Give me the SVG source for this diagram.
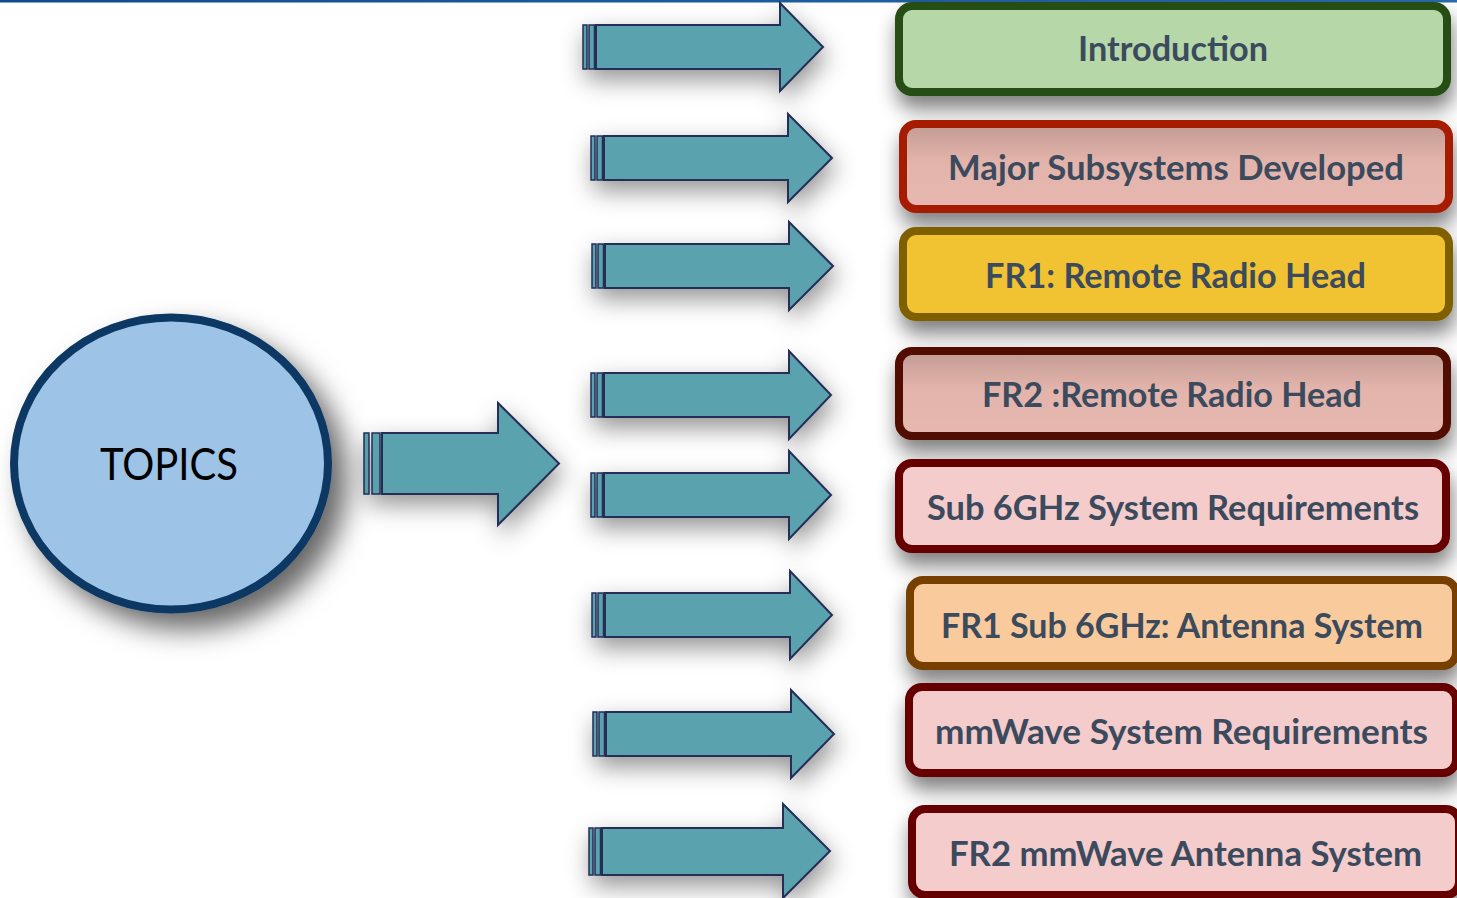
<svg xmlns="http://www.w3.org/2000/svg" width="1457" height="898" viewBox="0 0 1457 898">
  <defs>
    <filter id="shBox" x="-10%" y="-50%" width="120%" height="210%">
      <feGaussianBlur in="SourceAlpha" stdDeviation="10"/>
      <feOffset dx="2" dy="13" result="b"/>
      <feFlood flood-color="#000" flood-opacity="0.5"/>
      <feComposite in2="b" operator="in"/>
      <feMerge><feMergeNode/><feMergeNode in="SourceGraphic"/></feMerge>
    </filter>
    <filter id="shCircle" x="-30%" y="-30%" width="170%" height="170%">
      <feGaussianBlur in="SourceAlpha" stdDeviation="14"/>
      <feOffset dx="15" dy="16" result="b"/>
      <feFlood flood-color="#000" flood-opacity="0.6"/>
      <feComposite in2="b" operator="in"/>
      <feMerge><feMergeNode/><feMergeNode in="SourceGraphic"/></feMerge>
    </filter>
    <filter id="shArrow" x="-25%" y="-60%" width="150%" height="220%">
      <feGaussianBlur in="SourceAlpha" stdDeviation="12"/>
      <feOffset dx="3" dy="10" result="b"/>
      <feFlood flood-color="#000" flood-opacity="0.42"/>
      <feComposite in2="b" operator="in"/>
      <feMerge><feMergeNode/><feMergeNode in="SourceGraphic"/></feMerge>
    </filter>
    <linearGradient id="roseShade" x1="0" y1="0" x2="0" y2="1">
      <stop offset="0" stop-color="#c29b93"/>
      <stop offset="0.45" stop-color="#e3b4ab"/>
      <stop offset="1" stop-color="#e6b8af"/>
    </linearGradient>
    <linearGradient id="topRule" x1="0" y1="0" x2="1" y2="0">
      <stop offset="0" stop-color="#0f4c8c"/>
      <stop offset="1" stop-color="#2a6bab"/>
    </linearGradient>
  </defs>
  <style>
    .box { stroke-width: 8; }
    .label { font-family: Lato, "Open Sans", "Liberation Sans", sans-serif; font-weight: 700; font-size: 34px; fill: #3b4a5d; text-anchor: middle; }
    .arrow { fill: #5aa2ad; stroke: #252d58; stroke-width: 2; stroke-linejoin: miter; }
    .bar { fill: #5aa2ad; stroke: #252d58; stroke-width: 1.5; }
    .topics { font-family: Lato, "Open Sans", "Liberation Sans", sans-serif; font-size: 44px; fill: #000; text-anchor: middle; }
  </style>

  <rect x="0" y="0" width="1457" height="2.5" fill="url(#topRule)"/>

  <!-- block arrows -->
  <g id="connectors">
    <g filter="url(#shArrow)">
      <rect class="bar" x="364" y="433" width="5" height="61"/>
      <rect class="bar" x="372" y="433" width="8" height="61"/>
      <polygon class="arrow" points="382,433 498,433 498,403 559,463.5 498,525 498,494 382,494"/>
    </g>
    <g filter="url(#shArrow)">
      <rect class="bar" x="583" y="25" width="4" height="44"/>
      <rect class="bar" x="589" y="25" width="5.5" height="44"/>
      <polygon class="arrow" points="596,25 780,25 780,3 823,47 780,91 780,69 596,69"/>
    </g>
    <g filter="url(#shArrow)">
      <rect class="bar" x="591" y="136" width="4" height="44"/>
      <rect class="bar" x="597" y="136" width="5.5" height="44"/>
      <polygon class="arrow" points="604,136 788,136 788,114 832,158 788,202 788,180 604,180"/>
    </g>
    <g filter="url(#shArrow)">
      <rect class="bar" x="592" y="244" width="4" height="44"/>
      <rect class="bar" x="598" y="244" width="5.5" height="44"/>
      <polygon class="arrow" points="605,244 789,244 789,222 833,266 789,310 789,288 605,288"/>
    </g>
    <g filter="url(#shArrow)">
      <rect class="bar" x="591" y="373" width="4" height="44"/>
      <rect class="bar" x="597" y="373" width="5.5" height="44"/>
      <polygon class="arrow" points="604,373 789,373 789,351 831,395 789,439 789,417 604,417"/>
    </g>
    <g filter="url(#shArrow)">
      <rect class="bar" x="591" y="473" width="4" height="44"/>
      <rect class="bar" x="597" y="473" width="5.5" height="44"/>
      <polygon class="arrow" points="604,473 789,473 789,451 831,495 789,539 789,517 604,517"/>
    </g>
    <g filter="url(#shArrow)">
      <rect class="bar" x="592" y="593" width="4" height="44"/>
      <rect class="bar" x="598" y="593" width="5.5" height="44"/>
      <polygon class="arrow" points="605,593 790,593 790,571 832,615 790,659 790,637 605,637"/>
    </g>
    <g filter="url(#shArrow)">
      <rect class="bar" x="593" y="712" width="4" height="44"/>
      <rect class="bar" x="599" y="712" width="5.5" height="44"/>
      <polygon class="arrow" points="606,712 791,712 791,690 834,734 791,778 791,756 606,756"/>
    </g>
    <g filter="url(#shArrow)">
      <rect class="bar" x="589" y="828" width="4" height="47"/>
      <rect class="bar" x="595" y="828" width="5.5" height="47"/>
      <polygon class="arrow" points="602,828 783,828 783,804 830,851 783,898 783,875 602,875"/>
    </g>
  </g>

  <!-- central node -->
  <g id="topics">
    <ellipse cx="171" cy="463.5" rx="157" ry="146" fill="#9dc3e6" stroke="#083764" stroke-width="8" filter="url(#shCircle)"/>
    <text class="topics" x="169" y="480" textLength="138" lengthAdjust="spacingAndGlyphs">TOPICS</text>
  </g>

  <!-- topic boxes -->
  <g id="introduction">
    <rect class="box" x="899" y="6" width="548" height="86" rx="13" fill="#b6d7a8" stroke="#274e13" filter="url(#shBox)"/>
    <text class="label" x="1173" y="61" textLength="190" lengthAdjust="spacingAndGlyphs">Introduction</text>
  </g>
  <g id="major-subsystems">
    <rect class="box" x="903" y="124" width="546" height="85" rx="13" fill="url(#roseShade)" stroke="#a51d02" filter="url(#shBox)"/>
    <text class="label" x="1176" y="180" textLength="456" lengthAdjust="spacingAndGlyphs">Major Subsystems Developed</text>
  </g>
  <g id="fr1-rrh">
    <rect class="box" x="903" y="231" width="546" height="86" rx="13" fill="#f1c232" stroke="#7f6000" filter="url(#shBox)"/>
    <text class="label" x="1175.5" y="288" textLength="381" lengthAdjust="spacingAndGlyphs">FR1: Remote Radio Head</text>
  </g>
  <g id="fr2-rrh">
    <rect class="box" x="899" y="351" width="548" height="85" rx="13" fill="url(#roseShade)" stroke="#510d02" filter="url(#shBox)"/>
    <text class="label" x="1172" y="407" textLength="380" lengthAdjust="spacingAndGlyphs">FR2 :Remote Radio Head</text>
  </g>
  <g id="sub6-requirements">
    <rect class="box" x="899" y="463" width="547" height="86" rx="13" fill="#f4cccc" stroke="#660000" filter="url(#shBox)"/>
    <text class="label" x="1173" y="520" textLength="492" lengthAdjust="spacingAndGlyphs">Sub 6GHz System Requirements</text>
  </g>
  <g id="fr1-antenna">
    <rect class="box" x="910" y="580" width="546" height="86" rx="13" fill="#f9cb9c" stroke="#783f04" filter="url(#shBox)"/>
    <text class="label" x="1182" y="638" textLength="482" lengthAdjust="spacingAndGlyphs">FR1 Sub 6GHz: Antenna System</text>
  </g>
  <g id="mmwave-requirements">
    <rect class="box" x="909" y="687" width="547" height="86" rx="13" fill="#f4cccc" stroke="#660000" filter="url(#shBox)"/>
    <text class="label" x="1181.5" y="744" textLength="493" lengthAdjust="spacingAndGlyphs">mmWave System Requirements</text>
  </g>
  <g id="fr2-antenna">
    <rect class="box" x="912" y="809" width="547" height="86" rx="13" fill="#f4cccc" stroke="#660000" filter="url(#shBox)"/>
    <text class="label" x="1185.5" y="866" textLength="473" lengthAdjust="spacingAndGlyphs">FR2 mmWave Antenna System</text>
  </g>
</svg>
